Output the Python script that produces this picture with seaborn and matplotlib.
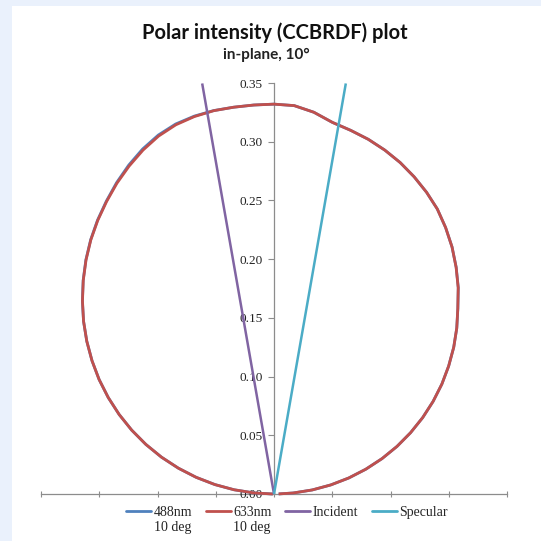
import numpy as np
import pandas as pd
import matplotlib
matplotlib.use("Agg")
import matplotlib.pyplot as plt
import seaborn as sns
from matplotlib.patches import Rectangle

# Scatter angle from the surface normal (degrees, + = specular side)
angles_deg = [-90, -87, -84, -81, -78, -75, -72, -69, -66, -63, -60, -57, -54,
              -51, -48, -45, -42, -39, -36, -33, -30, -27, -24, -21, -18, -15,
              -12, -9, -6, -3, 0, 3, 6, 9, 12, 15, 18, 21, 24, 27, 30, 33, 36,
              39, 42, 45, 48, 51, 54, 57, 60, 63, 66, 69, 72, 75, 78, 81, 84,
              87, 89]

# CCBRDF intensity per angle, 633 nm
intensity_633 = [0.0010, 0.0172, 0.0344, 0.0514, 0.0683, 0.0850, 0.1016, 0.1178,
                 0.1337, 0.1492, 0.1643, 0.1790, 0.1931, 0.2068, 0.2200, 0.2325,
                 0.2447, 0.2564, 0.2675, 0.2778, 0.2875, 0.2970, 0.3057, 0.3137,
                 0.3205, 0.3255, 0.3286, 0.3305, 0.3312, 0.3317, 0.3320, 0.3312,
                 0.3269, 0.3204, 0.3166, 0.3127, 0.3079, 0.3023, 0.2957, 0.2884,
                 0.2803, 0.2705, 0.2600, 0.2484, 0.2363, 0.2231, 0.2111, 0.1985,
                 0.1853, 0.1718, 0.1577, 0.1432, 0.1283, 0.1131, 0.0975, 0.0816,
                 0.0656, 0.0493, 0.0330, 0.0165, 0.0040]

# CCBRDF intensity per angle, 488 nm
intensity_488 = [0.0010, 0.0172, 0.0344, 0.0514, 0.0683, 0.0850, 0.1016, 0.1178,
                 0.1337, 0.1492, 0.1643, 0.1790, 0.1931, 0.2068, 0.2200, 0.2326,
                 0.2448, 0.2566, 0.2677, 0.2781, 0.2879, 0.2976, 0.3066, 0.3147,
                 0.3214, 0.3262, 0.3290, 0.3306, 0.3312, 0.3317, 0.3320, 0.3312,
                 0.3269, 0.3204, 0.3166, 0.3127, 0.3079, 0.3023, 0.2957, 0.2884,
                 0.2803, 0.2705, 0.2600, 0.2485, 0.2364, 0.2232, 0.2111, 0.1985,
                 0.1853, 0.1718, 0.1577, 0.1432, 0.1283, 0.1131, 0.0975, 0.0816,
                 0.0656, 0.0493, 0.0330, 0.0165, 0.0040]

# Incident and specular beam directions
incident_angle = [-10, -10]
incident_r = [0.0, 0.355]
specular_angle = [10, 10]
specular_r = [0.0, 0.355]

series_names = ["488nm", "633nm", "Incident", "Specular"]
series_notes = ["10 deg", "10 deg", "", ""]
series_colors = ["#4F81BD", "#C0504D", "#8064A2", "#4BACC6"]
y_ticks = [0.00, 0.05, 0.10, 0.15, 0.20, 0.25, 0.30, 0.35]
x_ticks = [-0.20, -0.15, -0.10, -0.05, 0.00, 0.05, 0.10, 0.15, 0.20]


def to_xy(angle, r, name):
    a = np.radians(np.asarray(angle, dtype=float))
    r = np.asarray(r, dtype=float)
    return pd.DataFrame({"x": r * np.sin(a), "y": r * np.cos(a), "series": name})


df = pd.concat([
    to_xy(angles_deg, intensity_488, series_names[0]),
    to_xy(angles_deg, intensity_633, series_names[1]),
    to_xy(incident_angle, incident_r, series_names[2]),
    to_xy(specular_angle, specular_r, series_names[3]),
], ignore_index=True)

sns.set_style("white")
serif = ["Liberation Serif", "DejaVu Serif"]
legend_size = 10

fig = plt.figure(figsize=(5.41, 5.41), dpi=100)
fig.patch.set_facecolor("#EAF1FC")
fig.patches.append(Rectangle((12 / 541, 0), 1, 1 - 6 / 541, transform=fig.transFigure,
                             facecolor="white", edgecolor="none", zorder=-10))

ax = fig.add_axes([41 / 541, 47 / 541, 466 / 541, 411 / 541])
ax.set_facecolor("none")
ax.set_zorder(1)

sns.lineplot(data=df, x="x", y="y", hue="series", hue_order=series_names,
             palette=dict(zip(series_names, series_colors)), sort=False,
             estimator=None, units="series", linewidth=2.0, ax=ax, legend=True)
for line, lw in zip(ax.get_lines(), [2.0, 2.0, 1.8, 1.8]):
    line.set_linewidth(lw)
    line.set_solid_capstyle("butt")
    line.set_solid_joinstyle("round")
    line.set_clip_on(False)

ax.set_xlim(-0.2, 0.2)
ax.set_ylim(0, 0.35)
ax.set_xlabel("")
ax.set_ylabel("")

axis_grey = "#8C8C8C"
for s in ["top", "right"]:
    ax.spines[s].set_visible(False)
ax.spines["left"].set_position(("data", 0))
ax.spines["bottom"].set_position(("data", 0))
for s in ["left", "bottom"]:
    ax.spines[s].set_color(axis_grey)
    ax.spines[s].set_linewidth(0.9)
    ax.spines[s].set_zorder(0.5)

ax.set_yticks(y_ticks)
ax.set_yticklabels([f"{v:.2f}" for v in y_ticks], fontfamily=serif, fontsize=9.5,
                   color="#222222")
ax.set_xticks(x_ticks)
ax.set_xticklabels([])
ax.tick_params(axis="y", direction="out", length=4, width=0.8, color=axis_grey, pad=4,
               left=True)
ax.tick_params(axis="x", direction="inout", length=5, width=0.8, color=axis_grey,
               bottom=True)

handles, labels = ax.get_legend_handles_labels()
ax.legend_.remove()
leg = fig.legend(handles, labels, loc="upper center",
                 bbox_to_anchor=(287 / 541, 1 - 500 / 541), ncol=4, frameon=False,
                 prop={"family": serif, "size": legend_size},
                 handlelength=1.8, handletextpad=0.2, columnspacing=0.95,
                 borderaxespad=0)

# second label line under the wavelength entries
fig.canvas.draw()
inv = fig.transFigure.inverted()
for txt, note in zip(leg.get_texts(), series_notes):
    if note:
        bb = txt.get_window_extent().transformed(inv)
        fig.text(bb.x0, bb.y0 - 0.004, note, ha="left", va="top", family=serif,
                 fontsize=legend_size, color="#222222")

fig.text(275 / 541, 1 - 33 / 541, "Polar intensity (CCBRDF) plot", ha="center",
         va="center", fontsize=14.5, fontweight="bold", family=["Lato", "DejaVu Sans"],
         color="#111111")
fig.text(266 / 541, 1 - 55 / 541, "in-plane, 10°", ha="center", va="center",
         fontsize=11, fontweight="bold", family=["Lato", "DejaVu Sans"], color="#222222")

fig.savefig("out.png", dpi=100, facecolor=fig.get_facecolor())
